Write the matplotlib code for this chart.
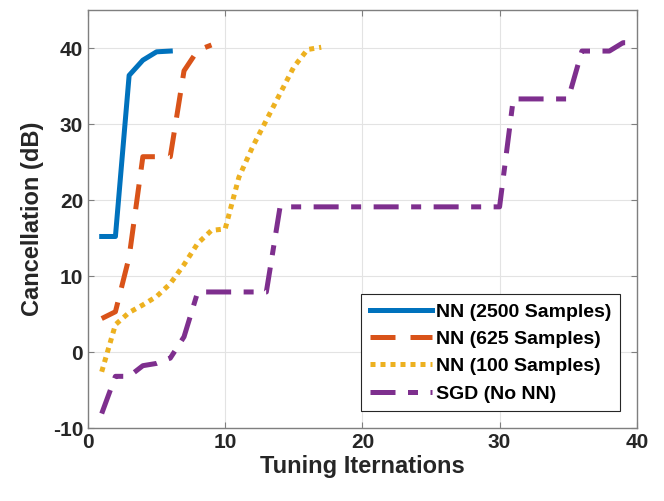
import numpy as np
import matplotlib
matplotlib.use("Agg")
import matplotlib.pyplot as plt

plt.rcParams['font.family'] = ['Liberation Sans', 'DejaVu Sans']
plt.rcParams['font.weight'] = 'bold'
plt.rcParams['axes.unicode_minus'] = False

# data
x_2500 = [1, 2, 3, 4, 5, 6]
y_2500 = [15.2, 15.2, 36.4, 38.4, 39.5, 39.6]

x_625 = [1, 2, 3, 4, 5, 6, 7, 8, 9]
y_625 = [4.4, 5.3, 12.5, 25.7, 25.7, 25.7, 37.0, 39.7, 40.4]

x_100 = list(range(1, 18))
y_100 = [-2.6, 3.6, 5.2, 6.2, 7.3, 9.0, 11.5, 14.3, 16.0, 16.2,
         23.0, 27.0, 30.5, 34.0, 37.5, 39.8, 40.1]

x_sgd = list(range(1, 41))
y_sgd = [-8.1, -3.2, -3.2, -1.8, -1.5, -0.8, 2.0, 7.9, 7.9, 7.9,
         7.9, 7.9, 7.9, 19.1, 19.1, 19.1, 19.1, 19.1, 19.1, 19.1,
         19.1, 19.1, 19.1, 19.1, 19.1, 19.1, 19.1, 19.1, 19.1, 19.1,
         33.3, 33.3, 33.3, 33.3, 33.3, 39.6, 39.6, 39.6, 40.7, 40.7]

labels = ['NN (2500 Samples)', 'NN (625 Samples)', 'NN (100 Samples)', 'SGD (No NN)']
colors = ['#0072BD', '#D95319', '#EDB120', '#7E2F8E']

fig = plt.figure(figsize=(6.64, 5.01), dpi=100)
ax = fig.add_axes([0.1325, 0.1457, 0.8265, 0.8343])

lw = 3.6
ax.plot(x_2500, y_2500, color=colors[0], lw=lw, ls='-', label=labels[0])
ax.plot(x_625, y_625, color=colors[1], lw=lw, ls=(0, (5, 3)), label=labels[1])
ax.plot(x_100, y_100, color=colors[2], lw=lw, ls=(0, (1, 1)), label=labels[2])
ax.plot(x_sgd, y_sgd, color=colors[3], lw=lw, ls=(0, (5, 2.5, 2, 2.5)), label=labels[3])

ax.set_xlim(0, 40)
ax.set_ylim(-10, 45)
ax.set_xticks([0, 10, 20, 30, 40])
ax.set_yticks([-10, 0, 10, 20, 30, 40])
ax.grid(True, color='#e3e3e3', lw=0.8)
ax.set_axisbelow(True)
ax.tick_params(direction='in', top=True, right=True, length=4, width=0.8,
               colors='#7f7f7f', labelcolor='#262626', labelsize=15)
for s in ax.spines.values():
    s.set_color('#7f7f7f')
    s.set_linewidth(1.0)

ax.set_xlabel('Tuning Iternations', fontsize=17, fontweight='bold', color='#262626', labelpad=2)
ax.set_ylabel('Cancellation (dB)', fontsize=17, fontweight='bold', color='#262626', labelpad=6)

leg = ax.legend(loc='lower right', bbox_to_anchor=(0.97, 0.04), fontsize=14,
                handlelength=3.2, handletextpad=0.2, labelspacing=0.5,
                borderpad=0.45, borderaxespad=0, fancybox=False, framealpha=1)
leg.get_frame().set_edgecolor('#262626')
leg.get_frame().set_linewidth(0.8)

fig.savefig('out.png', dpi=100)
